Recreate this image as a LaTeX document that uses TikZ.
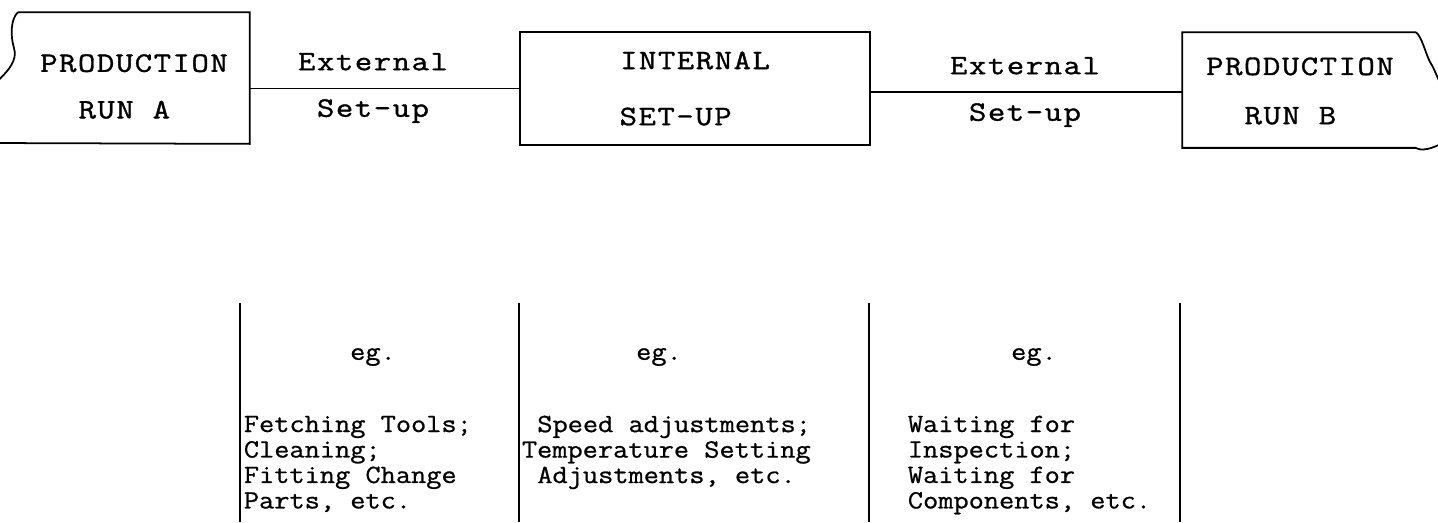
\documentclass[tikz,border=0pt]{standalone}
\usepackage{fontspec}
\newfontfamily\headfamily{Latin Modern Mono}[FakeStretch=1.2, LetterSpace=5.5, FakeBold=1.2]
\newfontfamily\notefamily{Latin Modern Mono}[FakeStretch=1.12, FakeBold=0.8]
\newcommand\headgap[1]{\hspace*{#1\dimexpr 11pt\relax}}
\tikzset{
  headtext/.style={font=\fontsize{16}{26.5}\headfamily, align=center, inner sep=0pt},
  notetext/.style={font=\fontsize{15}{14.5}\notefamily, align=left, inner sep=0pt, anchor=west},
  runbox/.style={rectangle, inner sep=0pt},
  setupbox/.style={draw, rectangle, inner sep=0pt, minimum width=7cm, minimum height=2.26cm}
}
\begin{document}
\begin{tikzpicture}[x=0.02cm, y=-0.02cm, line width=1pt]
    \useasboundingbox (0,0) rectangle (1438,522);
    \clip (0,0) rectangle (1438,522);
    % Run A
    \node[runbox, minimum width=4.6cm, minimum height=2.6cm] (boxA) at (134,78) {};
    \node[headtext] (runA) at (134,86.5) {PRODUCTION\\RUN A\headgap{1}};
    \draw (boxA.north west) -- (boxA.north east) -- (boxA.south east) -- (-10,143);
    \draw (boxA.north west) .. controls (11,18) and (10,35) .. (14,48)
        .. controls (18,60) and (8,72) .. (-6,84);
    % Internal set-up
    \node[setupbox, headtext] (internal) at (695,88.5) {INTERNAL\\[5.4pt]SET-UP\headgap{2}};
    % Run B
    \node[runbox, minimum width=4.64cm, minimum height=2.28cm] (boxB) at (1299,90) {};
    \node[headtext] (runB) at (1300,91) {PRODUCTION\\[1.5pt]RUN B\headgap{1}};
    \draw (boxB.north east) -- (boxB.north west) -- (boxB.south west) -- (boxB.south east)
        .. controls (1421,151) and (1431,150) .. (1446,141);
    \draw (boxB.north east) .. controls (1422,37) and (1425,52) .. (1430,62)
        .. controls (1436,71) and (1437,80) .. (1446,92);
    % External set-up
    \draw (boxA.east |- internal.west) -- (internal.west);
    \draw ([yshift=-0.07cm]internal.east) -- ([yshift=-0.07cm]boxB.west |- internal.east);
    \node[headtext] (extA) at (373,88) {External\\Set-up};
    \node[headtext] (extB) at (1025,92) {External\\Set-up};
    % Examples
    \foreach \x in {240,519,869,1180}
        \draw (\x,303) -- (\x,522);
    \node[notetext, anchor=center] (egA) at (373,357) {eg.};
    \node[notetext, anchor=center] (egB) at (659,357) {eg.};
    \node[notetext, anchor=center] (egC) at (1034,357) {eg.};
    \node[notetext] (exA) at (243,464) {Fetching Tools;\\Cleaning;\\Fitting Change\\Parts, etc.};
    \node[notetext] (exB) at (521,452.4) {\hspace*{8.8pt}Speed adjustments;\\Temperature Setting\\\hspace*{8.8pt}Adjustments, etc.};
    \node[notetext] (exC) at (907,465) {Waiting for\\Inspection;\\Waiting for\\Components, etc.};
\end{tikzpicture}
\end{document}
